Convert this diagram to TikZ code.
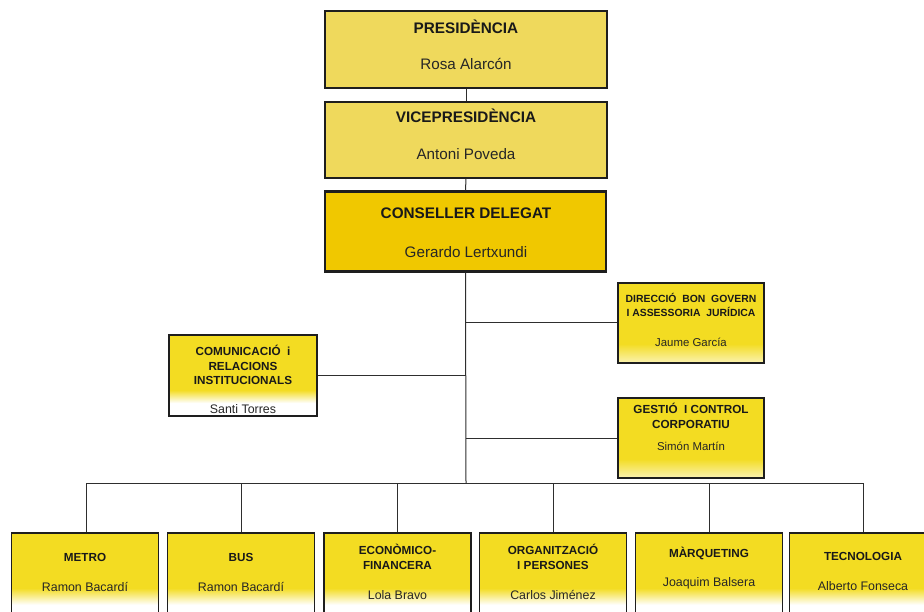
\documentclass[tikz,border=0pt]{standalone}
\usepackage{fontspec}
\setmainfont{Liberation Sans}
\definecolor{ytop}{HTML}{EFD95C}
\definecolor{ycon}{HTML}{F0C800}
\definecolor{ylow}{HTML}{F3DC22}
\definecolor{lncol}{HTML}{2E2E2E}
\definecolor{bdcol}{HTML}{1E1E1E}
\pgfdeclareverticalshading{fadebot}{100bp}{color(0bp)=(white); color(36bp)=(white); color(45bp)=(ylow); color(100bp)=(ylow)}
\pgfdeclareverticalshading{fadecom}{100bp}{color(0bp)=(white); color(33bp)=(white); color(41bp)=(ylow); color(100bp)=(ylow)}
\pgfdeclareverticalshading{fadeside}{100bp}{color(0bp)=(white); color(26bp)=(white!60!ylow); color(37bp)=(ylow); color(100bp)=(ylow)}
\tikzset{
  topbox/.style={draw=bdcol, line width=1.4pt, fill=ytop, minimum width=282pt, minimum height=77pt, inner sep=0pt},
  conbox/.style={draw=bdcol, line width=2.2pt, fill=ycon, minimum width=281pt, minimum height=80pt, inner sep=0pt},
  botbox/.style={draw=bdcol, line width=1.1pt, shade, shading=fadebot, minimum width=147pt, minimum height=92pt, inner sep=0pt},
  combox/.style={draw=bdcol, line width=1.2pt, shade, shading=fadecom, minimum width=148pt, minimum height=81pt, inner sep=0pt},
  sidebox/.style={draw=bdcol, line width=1.2pt, shade, shading=fadeside, minimum width=146pt, minimum height=80pt, inner sep=0pt},
  bigtitle/.style={font=\fontsize{15.3}{18}\selectfont\bfseries, inner sep=0pt, text=black!90},
  bigname/.style={font=\fontsize{15.2}{18}\selectfont, inner sep=0pt, text=black!85},
  smtitle/.style={font=\fontsize{11.7}{14.5}\selectfont\bfseries, inner sep=0pt, align=center, text=black!90},
  smname/.style={font=\fontsize{12.4}{14}\selectfont, inner sep=0pt, text=black!85},
  conn/.style={draw=lncol, line width=1pt}
}
\begin{document}
\begin{tikzpicture}[x=1pt,y=-1pt]
\clip (0,0) rectangle (924,612);
\fill[white] (0,0) rectangle (924,612);
\coordinate (busL) at (86,483);
\coordinate (busR) at (863,483);
\coordinate (spine) at (466,483);
% boxes
\node[topbox] (pres) at (466,49.5) {};
\node[topbox, minimum height=76pt] (vice) at (466,140) {};
\node[conbox] (cons) at (465.5,231.5) {};
\node[combox] (com) at (243,375.5) {};
\node[sidebox] (dir) at (691,323) {};
\node[sidebox] (ges) at (691,438) {};
\node[botbox] (metro) at (85,579) {};
\node[botbox] (bus) at (241,579) {};
\node[botbox] (econ) at (397.5,579) {};
\node[botbox] (org) at (553,579) {};
\node[botbox] (marq) at (709,579) {};
\node[botbox] (tec) at (863,579) {};
% lines
\draw[conn] (pres.south) -- (vice.north);
\draw[conn] (vice.south) -- (cons.north);
\draw[conn] (cons.south) -- (spine);
\draw[conn] (com.east) -- (com.east -| cons.south);
\draw[conn] (dir.west) -- (dir.west -| cons.south);
\draw[conn] (ges.west) -- (ges.west -| cons.south);
\draw[conn] (busL) -- (busR);
\draw[conn] (busL) -- (busL |- metro.north);
\draw[conn] (bus.north |- busL) -- (bus.north);
\draw[conn] (econ.north |- busL) -- (econ.north);
\draw[conn] (org.north |- busL) -- (org.north);
\draw[conn] (marq.north |- busL) -- (marq.north);
\draw[conn] (busR) -- (busR |- tec.north);
% texts
\node[bigtitle] (tpres) at (466,27) {PRESIDÈNCIA};
\node[bigname] (npres) at (466,64) {Rosa Alarcón};
\node[bigtitle] (tvice) at (466,116) {VICEPRESIDÈNCIA};
\node[bigname] (nvice) at (466,154) {Antoni Poveda};
\node[bigtitle] (tcons) at (466,213) {CONSELLER DELEGAT};
\node[bigname] (ncons) at (466,252) {Gerardo Lertxundi};
\node[smtitle] (tcom) at (243,365) {COMUNICACIÓ\ \ i\\RELACIONS\\INSTITUCIONALS};
\node[smname] (ncom) at (243,409) {Santi Torres};
\node[smtitle, font=\fontsize{10.4}{14}\selectfont\bfseries] (tdir) at (691,305) {DIRECCIÓ\ \ BON\ \ GOVERN\\I ASSESSORIA\ \ JURÍDICA};
\node[smname, font=\fontsize{11.4}{14}\selectfont] (ndir) at (691,342) {Jaume García};
\node[smtitle] (tges) at (691,416) {GESTIÓ\ \ I CONTROL\\CORPORATIU};
\node[smname, font=\fontsize{11.4}{14}\selectfont] (nges) at (691,446) {Simón Martín};
\node[smtitle] (tmetro) at (85,557) {METRO};
\node[smname] (nmetro) at (85,587) {Ramon Bacardí};
\node[smtitle] (tbus) at (241,557) {BUS};
\node[smname] (nbus) at (241,587) {Ramon Bacardí};
\node[smtitle] (tecon) at (397.5,557) {ECONÒMICO-\\FINANCERA};
\node[smname] (necon) at (397.5,595) {Lola Bravo};
\node[smtitle] (torg) at (553,557) {ORGANITZACIÓ\\I PERSONES};
\node[smname] (norg) at (553,595) {Carlos Jiménez};
\node[smtitle] (tmarq) at (709,553) {MÀRQUETING};
\node[smname] (nmarq) at (709,583) {Joaquim Balsera};
\node[smtitle] (ttec) at (863,556) {TECNOLOGIA};
\node[smname] (ntec) at (863,586) {Alberto Fonseca};
\end{tikzpicture}
\end{document}
